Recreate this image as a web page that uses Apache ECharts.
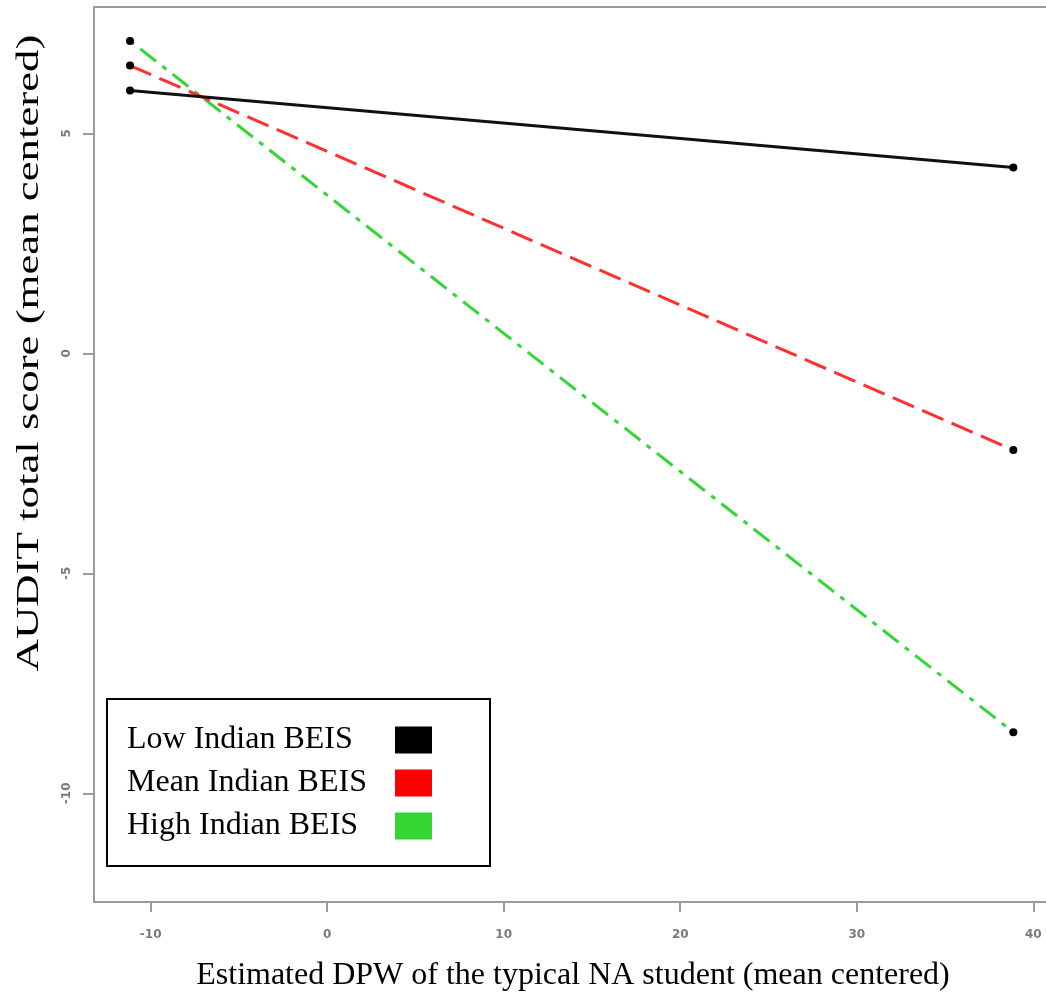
<!DOCTYPE html>
<html>
<head>
<meta charset="utf-8">
<script src="https://cdn.jsdelivr.net/npm/echarts@6/dist/echarts.min.js"></script>
<style>html,body{margin:0;padding:0;background:#fff}#chart{width:1046px;height:997px}</style>
</head>
<body>
<div id="chart"></div>
<script>
const xValues = [-11.17, 38.87];
const lowBEIS = [5.97, 4.22];
const meanBEIS = [6.54, -2.20];
const highBEIS = [7.10, -8.61];
const xTicks = [-10, 0, 10, 20, 30, 40];
const yTicks = [-10, -5, 0, 5];
const seriesNames = ['Low Indian BEIS', 'Mean Indian BEIS', 'High Indian BEIS'];
const xTitle = 'Estimated DPW of the typical NA student (mean centered)';
const yTitle = 'AUDIT total score (mean centered)';

const lineColors = ['#111111', '#ff3030', '#33d633'];
const swatchColors = ['#000000', '#ff0000', '#33d633'];
const dashes = ['solid', [23, 9], [5, 8, 20, 8]];
const values = [lowBEIS, meanBEIS, highBEIS];

const chart = echarts.init(document.getElementById('chart'), null, {renderer: 'canvas'});
const serif = "'Liberation Serif', 'Times New Roman', serif";
const axisGray = '#9a9a9a';
const X_MIN = -13.21, X_MAX = 40.72;

const series = seriesNames.map((name, i) => ({
  name: name,
  type: 'line',
  data: xValues.map((x, j) => [x, values[i][j]]),
  symbol: 'circle',
  symbolSize: 8,
  showSymbol: true,
  itemStyle: {color: '#000', borderWidth: 0},
  lineStyle: {color: lineColors[i], width: 3, type: dashes[i]},
  z: 3 - i,
  animation: false
}));

chart.setOption({
  animation: false,
  backgroundColor: '#fff',
  grid: {left: 94, top: 7, right: 0, bottom: 95, show: false},
  xAxis: [{
    type: 'value', min: X_MIN, max: X_MAX, position: 'bottom',
    axisLine: {show: true, onZero: false, lineStyle: {color: axisGray, width: 2}},
    splitLine: {show: false},
    axisTick: {show: true, customValues: xTicks, length: 10, lineStyle: {color: axisGray, width: 2}},
    axisLabel: {customValues: xTicks, margin: 27, fontSize: 12, fontWeight: 'bold', color: '#7a7a7a', fontFamily: 'DejaVu Sans'}
  }, {
    type: 'value', min: X_MIN, max: X_MAX, position: 'top',
    axisLine: {show: true, onZero: false, lineStyle: {color: axisGray, width: 2}},
    splitLine: {show: false}, axisTick: {show: false}, axisLabel: {show: false}
  }],
  yAxis: {
    type: 'value', min: -12.47, max: 7.87,
    axisLine: {show: true, onZero: false, lineStyle: {color: axisGray, width: 2}},
    splitLine: {show: false},
    axisTick: {show: true, customValues: yTicks, length: 11, lineStyle: {color: axisGray, width: 2}},
    axisLabel: {customValues: yTicks, rotate: 90, margin: 21, fontSize: 12, fontWeight: 'bold', color: '#7a7a7a', fontFamily: 'DejaVu Sans'}
  },
  legend: {
    orient: 'vertical', left: 107, top: 699,
    padding: [25, 58, 24, 20],
    itemWidth: 37, itemHeight: 27, itemGap: 11,
    align: 'right',
    backgroundColor: '#fff', borderColor: '#000', borderWidth: 2,
    formatter: name => '{a|' + name + '}',
    textStyle: {fontSize: 32, fontFamily: serif, color: '#000', lineHeight: 27,
      rich: {a: {width: 263, align: 'left', fontSize: 32, fontFamily: serif, color: '#000', lineHeight: 27}}},
    data: seriesNames.map((n, i) => ({name: n, icon: 'rect', itemStyle: {color: swatchColors[i], borderWidth: 0}}))
  },
  graphic: [
    {type: 'text', silent: true, x: 573, y: 976,
     style: {text: xTitle, fontSize: 32, fontFamily: serif, fill: '#000', textAlign: 'center', textVerticalAlign: 'middle'}},
    {type: 'text', silent: true, x: 30, y: 353, rotation: Math.PI / 2, scaleX: 1.4,
     style: {text: yTitle, fontSize: 32, fontFamily: serif, fill: '#000', textAlign: 'center', textVerticalAlign: 'middle'}}
  ],
  series: series
});
</script>
</body>
</html>
